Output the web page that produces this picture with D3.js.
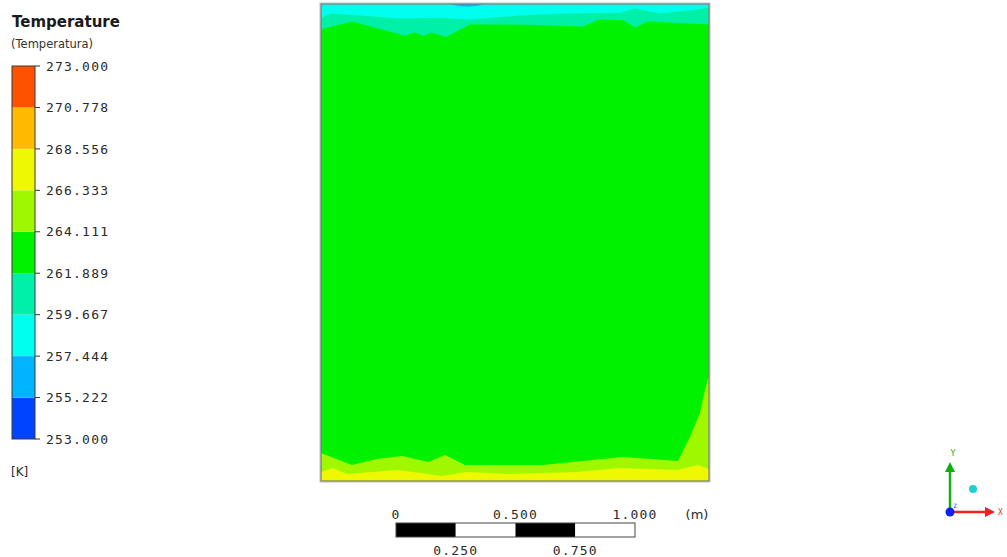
<!DOCTYPE html>
<html>
<head>
<meta charset="utf-8">
<script src="https://cdn.jsdelivr.net/npm/d3@7"></script>
<style>
  html, body { margin: 0; padding: 0; background: #fff; }
  svg { display: block; }
  text { font-family: "DejaVu Sans Mono", monospace; fill: #2a2a2a; }
</style>
</head>
<body>
<svg id="chart" width="1007" height="557"></svg>
<script>
// Temperature contour levels [K] and band colours (low → high)
const levels = [253.000, 255.222, 257.444, 259.667, 261.889, 264.111, 266.333, 268.556, 270.778, 273.000];
const levelLabels = ["253.000", "255.222", "257.444", "259.667", "261.889", "264.111", "266.333", "268.556", "270.778", "273.000"];
const bandColors = ["#0044ff", "#00b4ff", "#00ffee", "#00f0a8", "#00f200", "#a0f800", "#eef800", "#ffbb00", "#ff5200"];

// Domain size [m]
const domainWidth = 1.617;
const domainHeight = 1.99;

// Isotherms, as [x (m), y (m)] points across the domain
const iso259top = [[0, 1.929], [0.038, 1.95], [0.163, 1.942], [0.329, 1.929], [0.496, 1.933], [0.621, 1.925],
  [0.829, 1.942], [1.038, 1.95], [1.246, 1.954], [1.308, 1.971], [1.413, 1.95], [1.6, 1.971], [1.617, 1.975]];
const iso261top = [[0, 1.885], [0.13, 1.917], [0.35, 1.858], [0.39, 1.871], [0.43, 1.856], [0.46, 1.871],
  [0.52, 1.852], [0.62, 1.904], [0.82, 1.904], [1.09, 1.896], [1.16, 1.925], [1.26, 1.921], [1.31, 1.892],
  [1.36, 1.917], [1.617, 1.904]];
const iso257top = [[0.54, 1.99], [0.57, 1.982], [0.61, 1.979], [0.65, 1.982], [0.68, 1.99]];
const iso264bottom = [[0, 0.117], [0.129, 0.067], [0.233, 0.092], [0.3375, 0.104], [0.446, 0.079], [0.517, 0.108],
  [0.6, 0.067], [0.925, 0.067], [1.258, 0.1], [1.4875, 0.083], [1.5375, 0.183], [1.579, 0.283], [1.6, 0.379],
  [1.617, 0.442]];
const iso266bottom = [[0, 0.0375], [0.05, 0.054], [0.108, 0.029], [0.321, 0.046], [0.504, 0.021], [0.608, 0.0375],
  [0.7875, 0.029], [1.067, 0.0375], [1.246, 0.054], [1.483, 0.046], [1.571, 0.067], [1.617, 0.05]];

// Scale bar ticks [m]
const scaleTicksTop = [0, 0.5, 1.0];
const scaleTicksBottom = [0.25, 0.75];
const scaleTopLabels = ["0", "0.500", "1.000"];
const scaleBottomLabels = ["0.250", "0.750"];

const svg = d3.select("#chart");

// ---------- Contour plot ----------
const x = d3.scaleLinear().domain([0, domainWidth]).range([321, 709]);
const y = d3.scaleLinear().domain([0, domainHeight]).range([481, 4]);
const color = i => bandColors[i];

const plot = svg.append("g");
const clip = svg.append("defs").append("clipPath").attr("id", "domainClip");
clip.append("rect").attr("x", x(0)).attr("y", y(domainHeight))
  .attr("width", x(domainWidth) - x(0)).attr("height", y(0) - y(domainHeight));
const body = plot.append("g").attr("clip-path", "url(#domainClip)");

// Base band: 261.889 – 264.111 K
body.append("rect").attr("x", x(0)).attr("y", y(domainHeight))
  .attr("width", x(domainWidth) - x(0)).attr("height", y(0) - y(domainHeight))
  .attr("fill", color(4));

const areaAbove = d3.area().x(d => x(d[0])).y0(y(domainHeight)).y1(d => y(d[1]));
const areaBelow = d3.area().x(d => x(d[0])).y0(y(0)).y1(d => y(d[1]));

// Cold layers near the top wall
body.append("path").datum(iso261top).attr("d", areaAbove).attr("fill", color(3));
body.append("path").datum(iso259top).attr("d", areaAbove).attr("fill", color(2));
body.append("path").datum(iso257top).attr("d", areaAbove).attr("fill", color(1));

// Warm layers near the bottom wall
body.append("path").datum(iso264bottom).attr("d", areaBelow).attr("fill", color(5));
body.append("path").datum(iso266bottom).attr("d", areaBelow).attr("fill", color(6));

// Domain outline
plot.append("rect").attr("x", x(0) - 1).attr("y", y(domainHeight) - 1)
  .attr("width", x(domainWidth) - x(0) + 2).attr("height", y(0) - y(domainHeight) + 2)
  .attr("fill", "none").attr("stroke", "#c8c8c8").attr("stroke-width", 1.2);
plot.append("rect").attr("x", x(0)).attr("y", y(domainHeight))
  .attr("width", x(domainWidth) - x(0)).attr("height", y(0) - y(domainHeight))
  .attr("fill", "none").attr("stroke", "#7a7a7a").attr("stroke-width", 1.2);

// ---------- Legend ----------
const ly = d3.scaleLinear().domain([levels[0], levels[levels.length - 1]]).range([439, 66]);
const legend = svg.append("g");

legend.append("text").attr("x", 12).attr("y", 27)
  .style("font-family", "'DejaVu Sans', sans-serif").style("font-size", "15px").style("font-weight", "600")
  .style("fill", "#1a1a1a").text("Temperature");
legend.append("text").attr("x", 11).attr("y", 48)
  .style("font-family", "'DejaVu Sans', sans-serif").style("font-size", "11.5px")
  .style("fill", "#333").text("(Temperatura)");

legend.selectAll("rect.band").data(bandColors).join("rect")
  .attr("class", "band")
  .attr("x", 12).attr("width", 23)
  .attr("y", (d, i) => ly(levels[i + 1]))
  .attr("height", (d, i) => ly(levels[i]) - ly(levels[i + 1]))
  .attr("fill", d => d);
legend.append("rect").attr("x", 12).attr("y", ly(levels[levels.length - 1]))
  .attr("width", 23).attr("height", ly(levels[0]) - ly(levels[levels.length - 1]))
  .attr("fill", "none").attr("stroke", "#3a3a3a").attr("stroke-width", 1);

legend.selectAll("line.tick").data(levels).join("line")
  .attr("class", "tick")
  .attr("x1", 35).attr("x2", 40)
  .attr("y1", d => ly(d)).attr("y2", d => ly(d))
  .attr("stroke", "#333").attr("stroke-width", 1);

legend.selectAll("text.lbl").data(levels).join("text")
  .attr("class", "lbl")
  .attr("x", 46).attr("y", d => ly(d)).attr("dy", "0.36em")
  .style("font-size", "13px").style("letter-spacing", "1.2px")
  .text((d, i) => levelLabels[i]);

legend.append("text").attr("x", 11).attr("y", 476)
  .style("font-family", "'DejaVu Sans', sans-serif").style("font-size", "12px")
  .text("[K]");

// ---------- Scale bar ----------
const sx = d3.scaleLinear().domain([0, 1]).range([396, 635]);
const bar = svg.append("g");
const segs = [0, 0.25, 0.5, 0.75];
bar.selectAll("rect.seg").data(segs).join("rect")
  .attr("class", "seg")
  .attr("x", d => sx(d)).attr("y", 523)
  .attr("width", d => sx(d + 0.25) - sx(d)).attr("height", 14)
  .attr("fill", (d, i) => i % 2 === 0 ? "#000" : "#fff");
bar.append("rect").attr("x", sx(0)).attr("y", 523).attr("width", sx(1) - sx(0)).attr("height", 14)
  .attr("fill", "none").attr("stroke", "#444").attr("stroke-width", 1);

bar.selectAll("text.top").data(scaleTicksTop).join("text")
  .attr("class", "top").attr("x", d => sx(d)).attr("y", 519)
  .attr("text-anchor", "middle").style("font-size", "13px").style("letter-spacing", "1.2px")
  .text((d, i) => scaleTopLabels[i]);
bar.selectAll("text.bot").data(scaleTicksBottom).join("text")
  .attr("class", "bot").attr("x", d => sx(d)).attr("y", 555)
  .attr("text-anchor", "middle").style("font-size", "13px").style("letter-spacing", "1.2px")
  .text((d, i) => scaleBottomLabels[i]);
bar.append("text").attr("x", 697).attr("y", 519).attr("text-anchor", "middle")
  .style("font-family", "'DejaVu Sans', sans-serif").style("font-size", "13px").text("(m)");

// ---------- Axis triad ----------
const triad = svg.append("g");
const defs = svg.select("defs");
[["arrG", "#10b010"], ["arrR", "#f02020"]].forEach(([id, c]) => {
  defs.append("marker").attr("id", id).attr("viewBox", "0 0 10 10").attr("refX", 2).attr("refY", 5)
    .attr("markerWidth", 4).attr("markerHeight", 4).attr("orient", "auto")
    .append("path").attr("d", "M0,0 L10,5 L0,10 z").attr("fill", c);
});
triad.append("line").attr("x1", 950).attr("y1", 511).attr("x2", 950).attr("y2", 470)
  .attr("stroke", "#10b010").attr("stroke-width", 2.5).attr("marker-end", "url(#arrG)");
triad.append("line").attr("x1", 951).attr("y1", 512).attr("x2", 987).attr("y2", 512)
  .attr("stroke", "#f02020").attr("stroke-width", 2.5).attr("marker-end", "url(#arrR)");
triad.append("circle").attr("cx", 950).attr("cy", 512).attr("r", 4.5).attr("fill", "#1020ee");
triad.append("circle").attr("cx", 973).attr("cy", 489).attr("r", 4).attr("fill", "#20d0d0");
triad.append("text").attr("x", 953).attr("y", 456).attr("text-anchor", "middle")
  .style("font-size", "9px").style("fill", "#30b030").text("Y");
triad.append("text").attr("x", 998).attr("y", 515).attr("text-anchor", "start")
  .style("font-size", "8px").style("fill", "#e03030").text("X");
triad.append("text").attr("x", 955).attr("y", 508).attr("text-anchor", "middle")
  .style("font-size", "6px").style("fill", "#2030e0").text("Z");
</script>
</body>
</html>
